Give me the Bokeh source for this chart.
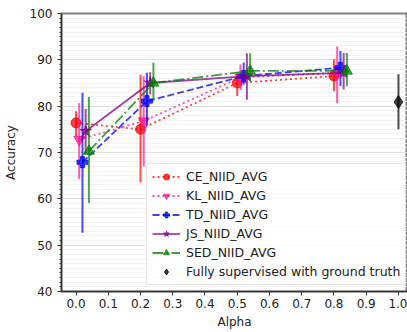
from bokeh.plotting import figure
from bokeh.models import Range1d, Legend, LegendItem, FixedTicker, NumeralTickFormatter
from bokeh.embed import file_html
from bokeh.resources import INLINE

# ---- data ----
ce_x = [0.0, 0.2, 0.5, 0.8]
ce_y = [76.4, 75.0, 85.0, 86.5]
ce_lo = [73.5, 63.5, 82.2, 83.2]
ce_hi = [78.9, 86.8, 87.2, 90.1]

kl_x = [0.01, 0.21, 0.51, 0.81]
kl_y = [72.8, 76.8, 86.2, 87.2]
kl_lo = [64.2, 67.0, 83.5, 80.7]
kl_hi = [80.7, 86.5, 89.0, 92.9]

td_x = [0.02, 0.22, 0.52, 0.82]
td_y = [67.9, 81.1, 86.5, 88.3]
td_lo = [52.7, 75.7, 84.7, 84.3]
td_hi = [82.9, 87.2, 89.4, 91.9]

js_x = [0.03, 0.23, 0.53, 0.83]
js_y = [74.6, 85.0, 86.5, 87.2]
js_lo = [69.6, 82.5, 81.4, 83.6]
js_hi = [79.4, 87.3, 91.4, 91.5]

sed_x = [0.04, 0.24, 0.54, 0.84]
sed_y = [70.3, 85.0, 87.6, 87.6]
sed_lo = [59.1, 81.4, 85.4, 84.3]
sed_hi = [82.0, 89.4, 91.4, 91.5]

fs_x = [1.0]
fs_y = [80.9]
fs_lo = [75.0]
fs_hi = [86.9]

x_ticks = [0.0, 0.1, 0.2, 0.3, 0.4, 0.5, 0.6, 0.7, 0.8, 0.9, 1.0]
y_ticks = [40, 50, 60, 70, 80, 90, 100]

series = [
    ("CE_NIID_AVG", ce_x, ce_y, ce_lo, ce_hi, "#ff0000", "2 3", "circle", 10),
    ("KL_NIID_AVG", kl_x, kl_y, kl_lo, kl_hi, "#ff1493", "2 3", "inverted_triangle", 11),
    ("TD_NIID_AVG", td_x, td_y, td_lo, td_hi, "#0000ff", "7 3", "plus", 11),
    ("JS_NIID_AVG", js_x, js_y, js_lo, js_hi, "#800080", "solid", "star", 12),
    ("SED_NIID_AVG", sed_x, sed_y, sed_lo, sed_hi, "#008000", "11 3 2 3", "triangle", 11),
]

FONT = "DejaVu Sans"

p = figure(width=407, height=331, output_backend="svg", toolbar_location=None,
           x_range=Range1d(-0.045, 1.028), y_range=Range1d(40, 100),
           min_border_left=61, min_border_right=0, min_border_top=13, min_border_bottom=40)

p.background_fill_color = "white"
p.outline_line_color = "#808080"
p.outline_line_width = 2

p.xaxis.ticker = FixedTicker(ticks=x_ticks)
p.xaxis.formatter = NumeralTickFormatter(format="0.0")
p.yaxis.ticker = FixedTicker(ticks=y_ticks, minor_ticks=list(range(40, 101)))

for ax in (p.xaxis, p.yaxis):
    ax.axis_line_color = "#333333"
    ax.axis_line_width = 1.5
    ax.major_tick_line_color = "#333333"
    ax.minor_tick_line_color = "#333333"
    ax.major_tick_out = 4
    ax.major_tick_in = 0
    ax.minor_tick_out = 2
    ax.minor_tick_in = 0
    ax.major_label_text_font = FONT
    ax.major_label_text_font_size = "12px"
    ax.major_label_text_color = "#222222"
    ax.axis_label_text_font = FONT
    ax.axis_label_text_font_size = "12px"
    ax.axis_label_text_font_style = "normal"
    ax.axis_label_text_color = "#222222"
p.xaxis.minor_tick_line_color = None
p.xaxis.axis_label = "Alpha"
p.yaxis.axis_label = "Accuracy"
p.xaxis.major_label_standoff = 3
p.yaxis.major_label_standoff = 5
p.xaxis.axis_label_standoff = 4
p.yaxis.axis_label_standoff = 9

p.xgrid.grid_line_color = None
p.ygrid.grid_line_color = "#e0e0e0"
p.ygrid.grid_line_width = 1
p.ygrid.minor_grid_line_color = "#f2f2f2"
p.ygrid.minor_grid_line_width = 1

items = []
for name, xs, ys, lo, hi, col, dash, marker, sz in series:
    seg = p.segment(x0=xs, y0=lo, x1=xs, y1=hi, line_color=col, line_width=2, line_alpha=0.7)
    ln = p.line(xs, ys, line_color=col, line_width=1.8, line_alpha=0.75, line_dash=dash)
    sc = p.scatter(xs, ys, marker=marker, size=sz, fill_color=col, line_color=col,
                   fill_alpha=0.75, line_alpha=0.75)
    items.append(LegendItem(label=name, renderers=[ln, sc]))

fseg = p.segment(x0=fs_x, y0=fs_lo, x1=fs_x, y1=fs_hi, line_color="black", line_width=2, line_alpha=0.7)
fsc = p.scatter(fs_x, fs_y, marker="diamond", size=13, fill_color="black", line_color="black",
                fill_alpha=0.75, line_alpha=0.75)
items.append(LegendItem(label="Fully supervised with ground truth", renderers=[fsc]))

legend = Legend(items=items, location=(85, 6))
legend.label_text_font = FONT
legend.label_text_font_size = "12.5px"
legend.label_text_color = "#222222"
legend.glyph_width = 28
legend.glyph_height = 15
legend.label_height = 15
legend.spacing = 4
legend.padding = 5
legend.margin = 0
legend.label_standoff = 6
legend.border_line_color = "#d0d0d0"
legend.border_line_width = 1
legend.background_fill_alpha = 0.85
p.add_layout(legend, "center")

open("out.html", "w").write(file_html(p, INLINE))
